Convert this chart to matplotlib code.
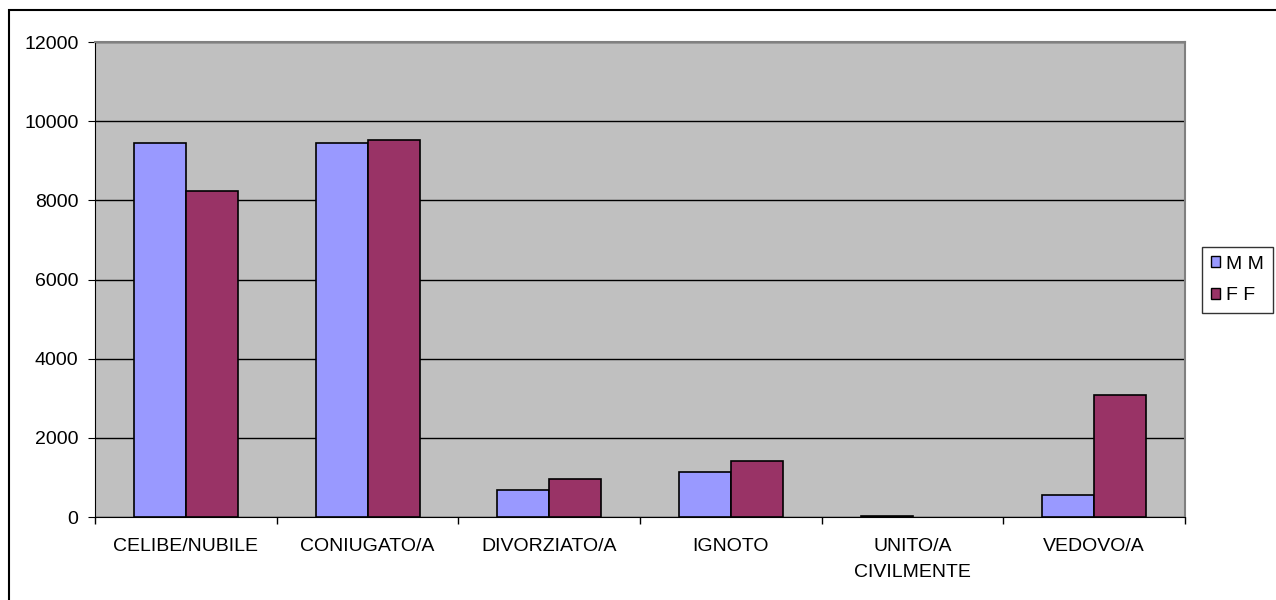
import numpy as np
import matplotlib.pyplot as plt
from matplotlib.patches import Patch, Rectangle

plt.rcParams['font.family'] = ['Liberation Sans', 'DejaVu Sans']

categorie = ["CELIBE/NUBILE", "CONIUGATO/A", "DIVORZIATO/A", "IGNOTO",
             "UNITO/A\nCIVILMENTE", "VEDOVO/A"]
maschi = [9450, 9450, 680, 1140, 25, 560]
femmine = [8230, 9530, 950, 1410, 0, 3075]

fig = plt.figure(figsize=(12.76, 6.0), dpi=100)
ax = fig.add_axes([0.0745, 0.1383, 0.8542, 0.7917])

x = np.arange(len(categorie)) + 0.5
w = 0.286
# le barre a zero non vengono disegnate
lw_m = [1.2 if v > 0 else 0 for v in maschi]
lw_f = [1.2 if v > 0 else 0 for v in femmine]
ax.bar(x - w / 2, maschi, w, color="#9999FF", edgecolor="black", linewidth=lw_m, zorder=3)
ax.bar(x + w / 2, femmine, w, color="#993366", edgecolor="black", linewidth=lw_f, zorder=3)

ax.set_facecolor("#C0C0C0")
ax.set_xlim(0, len(categorie))
ax.set_ylim(0, 12000)
ax.set_yticks(np.arange(0, 12001, 2000))
ax.yaxis.grid(True, color="black", linewidth=1.0, zorder=1)
ax.set_axisbelow(True)

ax.set_xticks(np.arange(len(categorie) + 1))
ax.set_xticklabels([])
ax.set_xticks(x, minor=True)
ax.set_xticklabels(categorie, minor=True, fontsize=14, linespacing=1.7)
ax.tick_params(axis="x", which="minor", length=0, pad=15)
ax.tick_params(axis="x", which="major", length=5, direction="out", width=1)
ax.tick_params(axis="y", length=5, direction="out", labelsize=14, pad=7)

for s in ["top", "right"]:
    ax.spines[s].set_color("#808080")
    ax.spines[s].set_linewidth(1.5)
ax.spines["left"].set_color("black")
ax.spines["bottom"].set_color("black")

handles = [Patch(facecolor="#9999FF", edgecolor="black", label="M M"),
           Patch(facecolor="#993366", edgecolor="black", label="F F")]
fig.legend(handles=handles, loc="upper left", bbox_to_anchor=(1202 / 1276, 1 - 247 / 600),
           frameon=True, fancybox=False, edgecolor="black", fontsize=14,
           handlelength=0.5, handleheight=0.5, handletextpad=0.3,
           borderpad=0.45, labelspacing=0.75, borderaxespad=0)

# cornice esterna del grafico
fig.patches.append(Rectangle((9 / 1276, -0.02), 1.05, 1 - 10 / 600 + 0.02,
                             transform=fig.transFigure, fill=False,
                             edgecolor="black", linewidth=1.5))

fig.savefig("out.png", dpi=100)
